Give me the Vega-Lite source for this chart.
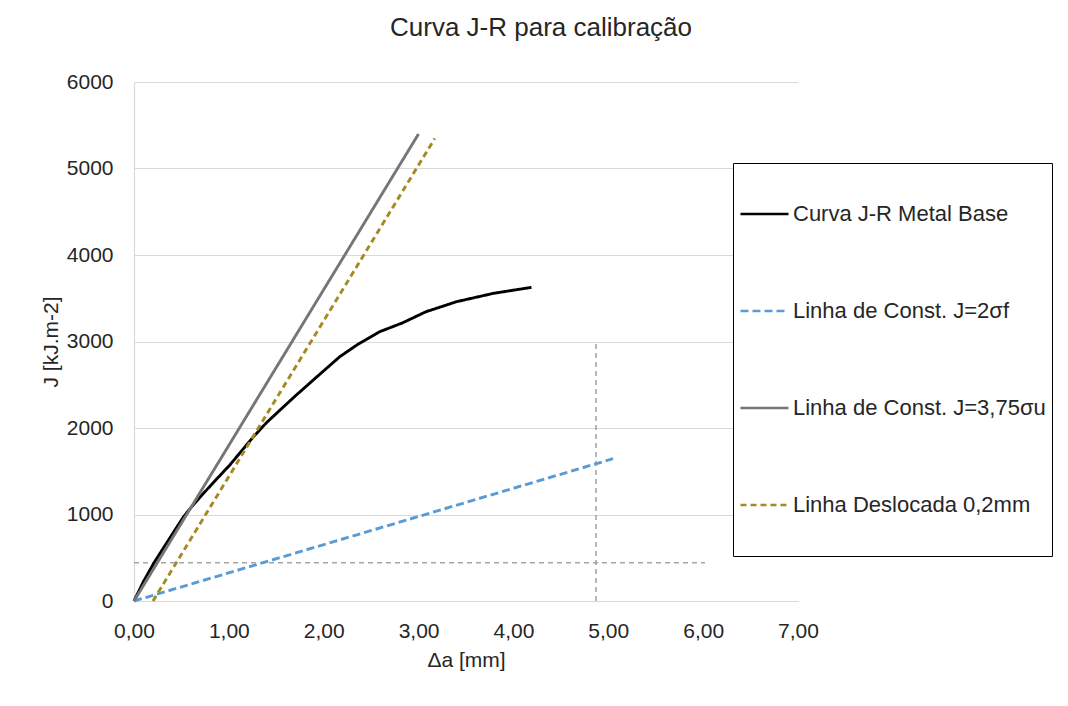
{
  "$schema": "https://vega.github.io/schema/vega-lite/v6.json",
  "width": 664,
  "height": 519,
  "autosize": {"type": "none"},
  "padding": {"left": 134, "top": 82, "right": 270, "bottom": 105},
  "background": "white",
  "config": {
    "font": "Liberation Sans",
    "view": {"stroke": null}
  },
  "title": {
    "text": "Curva J-R para calibração",
    "fontSize": 26,
    "fontWeight": "normal",
    "font": "Liberation Sans",
    "color": "#262626",
    "anchor": "middle",
    "frame": "group",
    "offset": 30,
    "dx": 75
  },
  "datasets": {
    "refs": [
      {"id": "v", "x": 4.87, "y": 0},
      {"id": "v", "x": 4.87, "y": 3000},
      {"id": "h", "x": 0, "y": 443},
      {"id": "h", "x": 6.02, "y": 443}
    ],
    "series": [
      {"s": "Curva J-R Metal Base", "x": 0, "y": 0},
      {"s": "Curva J-R Metal Base", "x": 0.1, "y": 225},
      {"s": "Curva J-R Metal Base", "x": 0.21, "y": 440},
      {"s": "Curva J-R Metal Base", "x": 0.31, "y": 612},
      {"s": "Curva J-R Metal Base", "x": 0.42, "y": 800},
      {"s": "Curva J-R Metal Base", "x": 0.52, "y": 970},
      {"s": "Curva J-R Metal Base", "x": 0.6, "y": 1080},
      {"s": "Curva J-R Metal Base", "x": 0.7, "y": 1205},
      {"s": "Curva J-R Metal Base", "x": 0.85, "y": 1385},
      {"s": "Curva J-R Metal Base", "x": 1.01, "y": 1572},
      {"s": "Curva J-R Metal Base", "x": 1.13, "y": 1730},
      {"s": "Curva J-R Metal Base", "x": 1.26, "y": 1900},
      {"s": "Curva J-R Metal Base", "x": 1.4, "y": 2065},
      {"s": "Curva J-R Metal Base", "x": 1.54, "y": 2208},
      {"s": "Curva J-R Metal Base", "x": 1.7, "y": 2370},
      {"s": "Curva J-R Metal Base", "x": 1.89, "y": 2555},
      {"s": "Curva J-R Metal Base", "x": 2.17, "y": 2825},
      {"s": "Curva J-R Metal Base", "x": 2.35, "y": 2960},
      {"s": "Curva J-R Metal Base", "x": 2.59, "y": 3113},
      {"s": "Curva J-R Metal Base", "x": 2.83, "y": 3215},
      {"s": "Curva J-R Metal Base", "x": 3.08, "y": 3345},
      {"s": "Curva J-R Metal Base", "x": 3.4, "y": 3460},
      {"s": "Curva J-R Metal Base", "x": 3.79, "y": 3557},
      {"s": "Curva J-R Metal Base", "x": 4.19, "y": 3626},
      {"s": "Linha de Const. J=2σf", "x": 0, "y": 0},
      {"s": "Linha de Const. J=2σf", "x": 5.05, "y": 1645},
      {"s": "Linha de Const. J=3,75σu", "x": 0, "y": 0},
      {"s": "Linha de Const. J=3,75σu", "x": 3.0, "y": 5400},
      {"s": "Linha Deslocada 0,2mm", "x": 0.2, "y": 0},
      {"s": "Linha Deslocada 0,2mm", "x": 3.17, "y": 5346}
    ]
  },
  "encoding": {
    "x": {
      "field": "x",
      "type": "quantitative",
      "scale": {"domain": [0, 7], "nice": false, "zero": false},
      "axis": {
        "values": [0, 1, 2, 3, 4, 5, 6, 7],
        "labelExpr": "replace(format(datum.value, '.2f'), '.', ',')",
        "title": "Δa [mm]",
        "grid": false,
        "ticks": false,
        "tickSize": 0,
        "labelPadding": 19,
        "labelFlush": false,
        "labelOverlap": false,
        "domainColor": "#d9d9d9",
        "domainWidth": 1.2,
        "labelFontSize": 21,
        "labelColor": "#262626",
        "titleFontSize": 21,
        "titleFontWeight": "normal",
        "titleColor": "#262626",
        "titlePadding": 8
      }
    },
    "y": {
      "field": "y",
      "type": "quantitative",
      "scale": {"domain": [0, 6000], "nice": false},
      "axis": {
        "values": [0, 1000, 2000, 3000, 4000, 5000, 6000],
        "format": "d",
        "title": "J [kJ.m-2]",
        "grid": true,
        "gridColor": "#d9d9d9",
        "gridWidth": 1.2,
        "ticks": false,
        "tickSize": 0,
        "labelPadding": 21,
        "labelOverlap": false,
        "domainColor": "#d9d9d9",
        "domainWidth": 1.2,
        "labelFontSize": 21,
        "labelColor": "#262626",
        "titleFontSize": 21,
        "titleFontWeight": "normal",
        "titleColor": "#262626",
        "titlePadding": 5
      }
    }
  },
  "layer": [
    {
      "data": {"name": "refs"},
      "mark": {"type": "line", "color": "#a6a6a6", "strokeWidth": 1.6, "strokeDash": [5, 4]},
      "encoding": {"detail": {"field": "id", "type": "nominal"}}
    },
    {
      "data": {"name": "series"},
      "mark": {"type": "line", "strokeWidth": 2.9},
      "encoding": {
        "color": {
          "field": "s",
          "type": "nominal",
          "scale": {
            "domain": ["Curva J-R Metal Base", "Linha de Const. J=2σf", "Linha de Const. J=3,75σu", "Linha Deslocada 0,2mm"],
            "range": ["#000000", "#5b9bd5", "#767676", "#a6891f"]
          },
          "legend": {
            "orient": "none",
            "legendX": 599,
            "legendY": 81,
            "title": null,
            "symbolType": "stroke",
            "symbolSize": 2304,
            "symbolStrokeWidth": 2.5,
            "labelFontSize": 22,
            "labelColor": "#262626",
            "labelOffset": 3,
            "labelLimit": 400,
            "padding": 6,
            "clipHeight": 90,
            "rowPadding": 7,
            "strokeColor": "#000000",
            "fillColor": "#ffffff"
          }
        },
        "strokeDash": {
          "field": "s",
          "type": "nominal",
          "scale": {
            "domain": ["Curva J-R Metal Base", "Linha de Const. J=2σf", "Linha de Const. J=3,75σu", "Linha Deslocada 0,2mm"],
            "range": [[1, 0], [8, 4], [1, 0], [6, 4]]
          },
          "legend": {
            "orient": "none",
            "legendX": 599,
            "legendY": 81,
            "title": null,
            "symbolType": "stroke",
            "symbolSize": 2304,
            "symbolStrokeWidth": 2.5,
            "labelFontSize": 22,
            "labelColor": "#262626",
            "labelOffset": 3,
            "labelLimit": 400,
            "padding": 6,
            "clipHeight": 90,
            "rowPadding": 7,
            "strokeColor": "#000000",
            "fillColor": "#ffffff"
          }
        }
      }
    }
  ]
}
